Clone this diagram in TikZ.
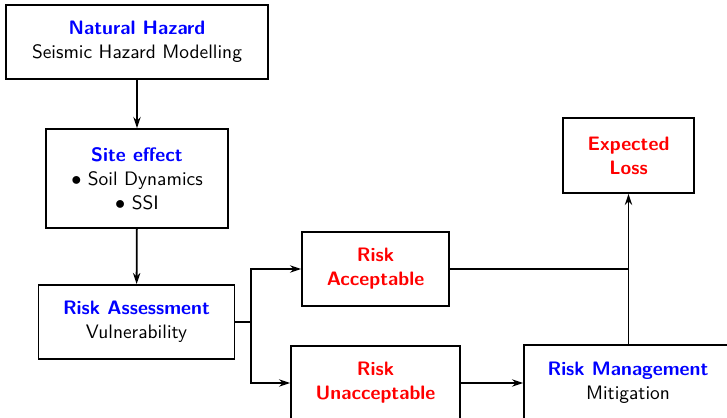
\documentclass[tikz,border=0pt]{standalone}
\usetikzlibrary{arrows.meta}
\newdimen\pxu \pxu=0.54pt
\begin{document}
\begin{tikzpicture}[x=0.54pt,y=-0.54pt,
  box/.style={draw,line width=1pt,align=center,inner sep=0pt,font=\sffamily\fontsize{10.5pt}{13pt}\selectfont},
  conn/.style={line width=1pt},
  arr/.style={line width=1pt,-{Stealth[length=6pt,width=4pt]}}]
\useasboundingbox (0,0) rectangle (727,418);
\clip (0,0) rectangle (727,418);
\node[box,minimum width={262*\pxu},minimum height={74*\pxu}] (nh) at (137,42)
  {\textcolor{blue}{\bfseries Natural Hazard}\\Seismic Hazard Modelling};
\node[box,minimum width={182*\pxu},minimum height={99*\pxu}] (se) at (137,178.5)
  {\textcolor{blue}{\bfseries Site effect}\\$\bullet$ Soil Dynamics\\$\bullet$ SSI};
\node[box,minimum width={196*\pxu},minimum height={74*\pxu}] (ra) at (136.5,322)
  {\textcolor{blue}{\bfseries Risk Assessment}\\Vulnerability};
\node[box,minimum width={147*\pxu},minimum height={74*\pxu}] (acc) at (375.5,269)
  {\textcolor{red}{\bfseries Risk}\\\textcolor{red}{\bfseries Acceptable}};
\node[box,minimum width={169*\pxu},minimum height={74*\pxu}] (un) at (375.5,383)
  {\textcolor{red}{\bfseries Risk}\\\textcolor{red}{\bfseries Unacceptable}};
\node[box,minimum width={208*\pxu},minimum height={76*\pxu}] (rm) at (628,383)
  {\textcolor{blue}{\bfseries Risk Management}\\Mitigation};
\node[box,minimum width={131*\pxu},minimum height={75*\pxu}] (el) at (628.5,155.5)
  {\textcolor{red}{\bfseries Expected}\\\textcolor{red}{\bfseries Loss}};
\coordinate (split) at (251,322);
\coordinate (join) at (628,269);
\draw[arr] (nh) -- (se);
\draw[arr] (se) -- (ra);
\draw[conn] (ra.east) -- (split);
\draw[arr] (split) |- (acc.west);
\draw[arr] (split) |- (un.west);
\draw[arr] (un) -- (rm);
\draw[conn] (acc.east) -- (join);
\draw[arr] (rm.north -| el) -- (el.south);
\end{tikzpicture}
\end{document}
